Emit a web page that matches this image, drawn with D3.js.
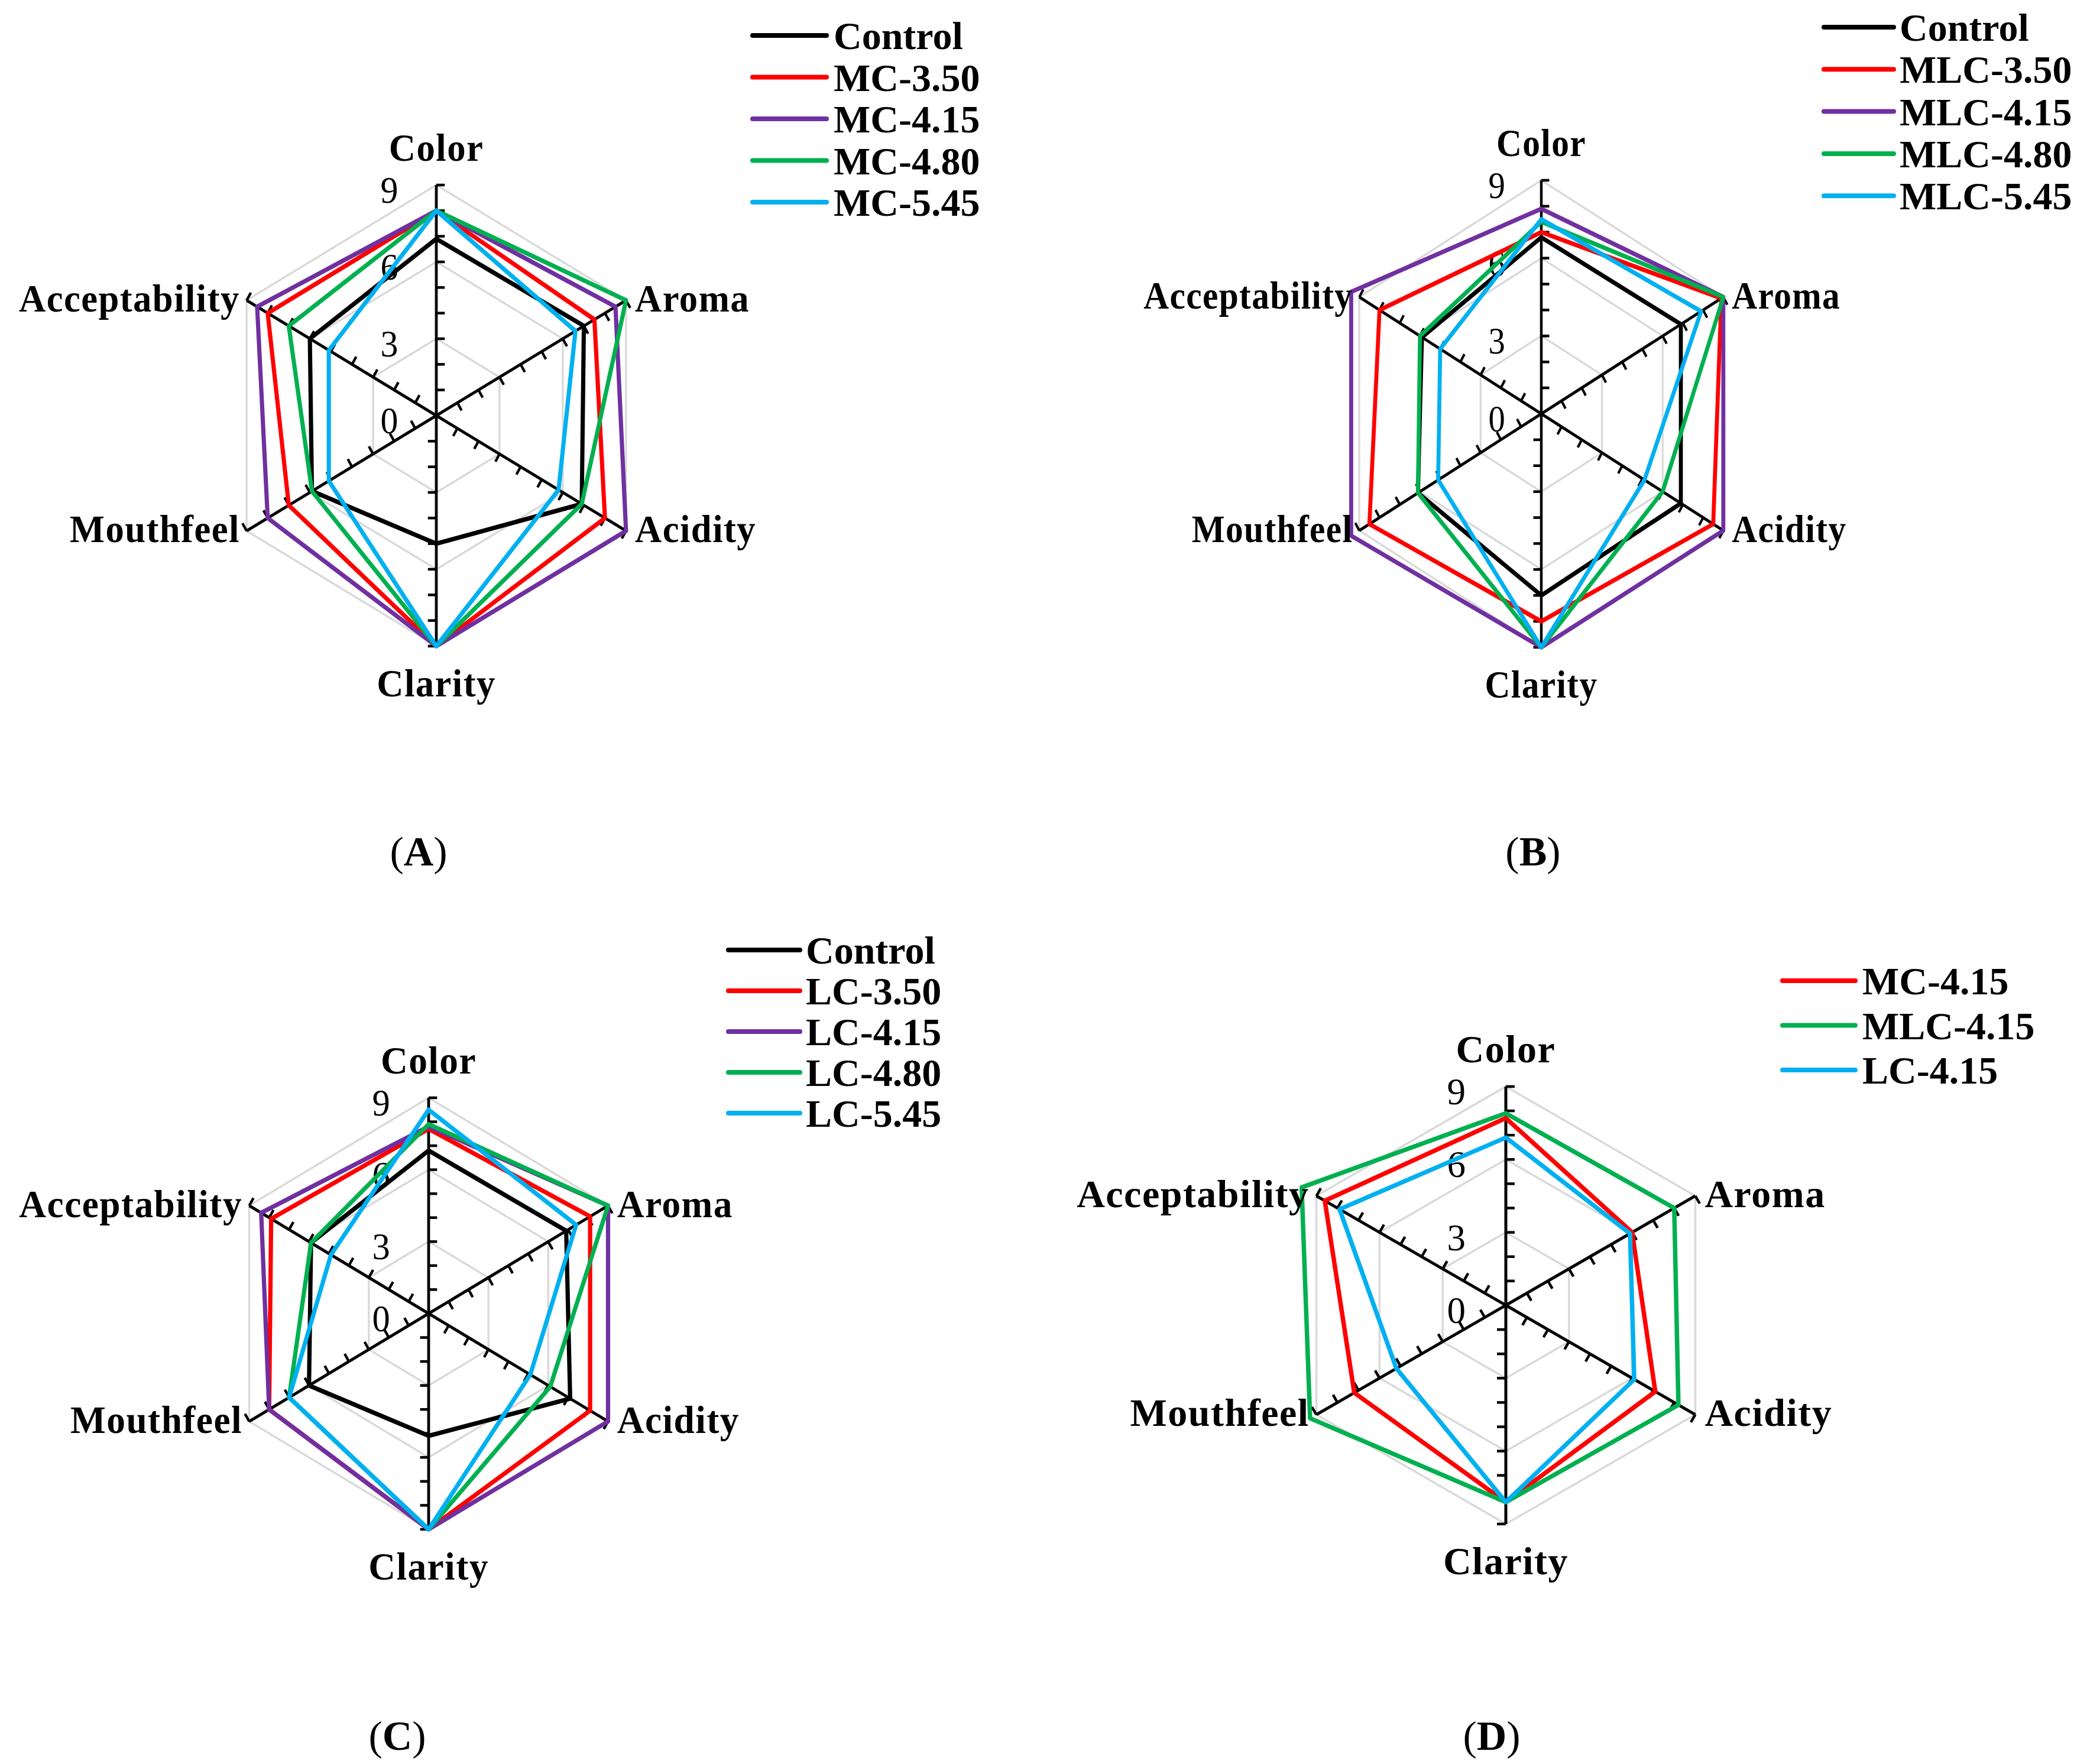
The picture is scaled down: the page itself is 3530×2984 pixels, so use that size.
<!DOCTYPE html>
<meta charset="utf-8">
<script src="https://d3js.org/d3.v7.min.js"></script>
<style>
body { margin: 0; background: #fff; }
text { font-family: "Liberation Serif", "Times New Roman", serif; }
</style>
<div id="main"></div>
<script>

// attributes, clockwise from the top
const attributes = ["Color", "Aroma", "Acidity", "Clarity", "Mouthfeel", "Acceptability"];
const scoreTicks = [0, 3, 6, 9];
const gridRings = [3, 6, 9];

const seriesA = ["Control", "MC-3.50", "MC-4.15", "MC-4.80", "MC-5.45"];
const valuesA = [
  [6.9, 7.0, 6.9, 5.0, 5.9, 6.0],
  [8.0, 7.5, 8.0, 9.0, 7.0, 8.0],
  [8.0, 8.5, 9.0, 9.0, 8.0, 8.5],
  [8.0, 9.0, 6.9, 9.0, 5.9, 7.0],
  [8.0, 6.6, 5.8, 9.0, 5.1, 5.1]
];

const seriesB = ["Control", "MLC-3.50", "MLC-4.15", "MLC-4.80", "MLC-5.45"];
const valuesB = [
  [6.8, 6.9, 6.9, 7.0, 6.1, 5.9],
  [7.0, 8.9, 8.5, 8.0, 8.5, 8.0],
  [7.9, 9.0, 9.0, 9.0, 9.4, 9.4],
  [7.4, 9.0, 6.0, 9.0, 6.1, 6.0],
  [7.5, 7.9, 5.1, 9.0, 5.1, 5.0]
];

const seriesC = ["Control", "LC-3.50", "LC-4.15", "LC-4.80", "LC-5.45"];
const valuesC = [
  [6.8, 6.9, 7.1, 5.1, 6.0, 5.9],
  [7.7, 8.1, 8.1, 9.0, 8.0, 7.9],
  [7.8, 9.0, 9.0, 9.0, 8.0, 8.4],
  [7.9, 9.0, 6.1, 9.0, 7.0, 5.9],
  [8.5, 7.4, 5.1, 9.0, 7.0, 4.9]
];

const seriesD = ["MC-4.15", "MLC-4.15", "LC-4.15"];
const valuesD = [
  [7.7, 6.0, 7.1, 8.1, 7.2, 8.6],
  [7.9, 8.0, 8.2, 8.1, 9.3, 9.7],
  [6.9, 5.9, 6.1, 8.1, 5.2, 7.9]
];

const colorsFive = ["#000000", "#ff0000", "#7030a0", "#00b050", "#00b0f0"];
const colorsD = ["#ff0000", "#00b050", "#00b0f0"];

const W = 3530, H = 2984;

const svg = d3.select("#main").append("svg")
    .attr("width", W)
    .attr("height", H);

const panels = [
  {tag: "A", names: seriesA, values: valuesA, colors: colorsFive,
   cx: 738, cy: 703, r: 390, sx: 0.95,
   leg: {x1: 1273, x2: 1398, y0: 60, step: 70.5, tx: 1410},
   lab: {x: 708, y: 1439}},
  {tag: "B", names: seriesB, values: valuesB, colors: colorsFive,
   cx: 2607, cy: 700, r: 395, sx: 0.90,
   leg: {x1: 3085, x2: 3203, y0: 46, step: 71.3, tx: 3213},
   lab: {x: 2593, y: 1439}},
  {tag: "C", names: seriesC, values: valuesC, colors: colorsFive,
   cx: 725, cy: 2222, r: 365, sx: 0.96,
   leg: {x1: 1232, x2: 1353, y0: 1607, step: 69, tx: 1363},
   lab: {x: 672, y: 2935}},
  {tag: "D", names: seriesD, values: valuesD, colors: colorsD,
   cx: 2547, cy: 2208, r: 370, sx: 1.0,
   leg: {x1: 3015, x2: 3138, y0: 1659, step: 75.5, tx: 3150},
   lab: {x: 2523, y: 2935}}
];

const angle = d3.scalePoint()
    .domain(attributes)
    .range([0, 2 * Math.PI * (attributes.length - 1) / attributes.length]);

panels.forEach(function(p) {
  const rScale = d3.scaleLinear().domain([0, 9]).range([0, p.r]);

  const g = svg.append("g")
      .attr("transform", "translate(" + p.cx + "," + p.cy + ") scale(" + p.sx + ",1)");

  const line = d3.lineRadial()
      .angle(function(d, i) { return angle(attributes[i]); })
      .radius(function(d) { return rScale(d); })
      .curve(d3.curveLinearClosed);

  // grey rings
  g.append("g").selectAll("path")
    .data(gridRings)
    .enter().append("path")
      .attr("d", function(v) { return line(attributes.map(function() { return v; })); })
      .attr("fill", "none")
      .attr("stroke", "#d9d9d9")
      .attr("stroke-width", 3.5);

  // spokes with ticks on the clockwise side
  const spokes = g.append("g").selectAll("g")
    .data(attributes)
    .enter().append("g");

  spokes.append("line")
      .attr("x1", 0).attr("y1", 0)
      .attr("x2", function(d) { return rScale(9) * Math.sin(angle(d)); })
      .attr("y2", function(d) { return -rScale(9) * Math.cos(angle(d)); })
      .attr("stroke", "#000")
      .attr("stroke-width", 5);

  spokes.each(function(a) {
    const t = angle(a);
    d3.select(this).selectAll("line.tick")
      .data(d3.range(1, 10))
      .enter().append("line")
        .attr("class", "tick")
        .attr("x1", function(v) { return rScale(v) * Math.sin(t); })
        .attr("y1", function(v) { return -rScale(v) * Math.cos(t); })
        .attr("x2", function(v) { return rScale(v) * Math.sin(t) + 15 * Math.cos(t); })
        .attr("y2", function(v) { return -rScale(v) * Math.cos(t) + 15 * Math.sin(t); })
        .attr("stroke", "#000")
        .attr("stroke-width", 4.5);
  });

  // score labels on the Color axis
  g.append("g").selectAll("text")
    .data(scoreTicks)
    .enter().append("text")
      .attr("x", -68)
      .attr("y", function(v) { return -rScale(v) + 8; })
      .attr("dy", "0.35em")
      .attr("text-anchor", "end")
      .attr("font-size", 63)
      .text(function(v) { return v; });

  // series polygons
  g.append("g").selectAll("path")
    .data(p.values)
    .enter().append("path")
      .attr("d", function(d) { return line(d); })
      .attr("fill", "none")
      .attr("stroke", function(d, i) { return p.colors[i]; })
      .attr("stroke-width", 7.5)
      .attr("stroke-linejoin", "round");

  // attribute labels
  g.append("g").selectAll("text")
    .data(attributes)
    .enter().append("text")
      .attr("x", function(d) {
        const s = Math.sin(angle(d));
        return rScale(9) * s + (Math.abs(s) < 0.1 ? 0 : (s > 0 ? 16 : -12));
      })
      .attr("y", function(d) {
        const c = Math.cos(angle(d));
        return -rScale(9) * c + (Math.abs(c) > 0.9 ? (c > 0 ? -64 : 62) : -4);
      })
      .attr("dy", "0.35em")
      .attr("text-anchor", function(d) {
        const s = Math.sin(angle(d));
        return Math.abs(s) < 0.1 ? "middle" : (s > 0 ? "start" : "end");
      })
      .attr("font-size", 66)
      .attr("font-weight", "bold")
      .attr("letter-spacing", 1.5)
      .text(function(d) { return d; });

  // legend
  const leg = svg.append("g").selectAll("g")
    .data(p.names)
    .enter().append("g")
      .attr("transform", function(d, i) { return "translate(0," + (p.leg.y0 + i * p.leg.step) + ")"; });

  leg.append("line")
      .attr("x1", p.leg.x1).attr("x2", p.leg.x2)
      .attr("y1", 0).attr("y2", 0)
      .attr("stroke", function(d, i) { return p.colors[i]; })
      .attr("stroke-width", 8)
      .attr("stroke-linecap", "round");

  leg.append("text")
      .attr("x", p.leg.tx)
      .attr("y", 0)
      .attr("dy", "0.35em")
      .attr("font-size", 66)
      .attr("font-weight", "bold")
      .text(function(d) { return d; });

  // panel letter
  const lab = svg.append("text")
      .attr("x", p.lab.x)
      .attr("y", p.lab.y)
      .attr("dy", "0.35em")
      .attr("text-anchor", "middle")
      .attr("font-size", 70);
  lab.append("tspan").text("(");
  lab.append("tspan").attr("font-weight", "bold").text(p.tag);
  lab.append("tspan").text(")");
});

</script>
